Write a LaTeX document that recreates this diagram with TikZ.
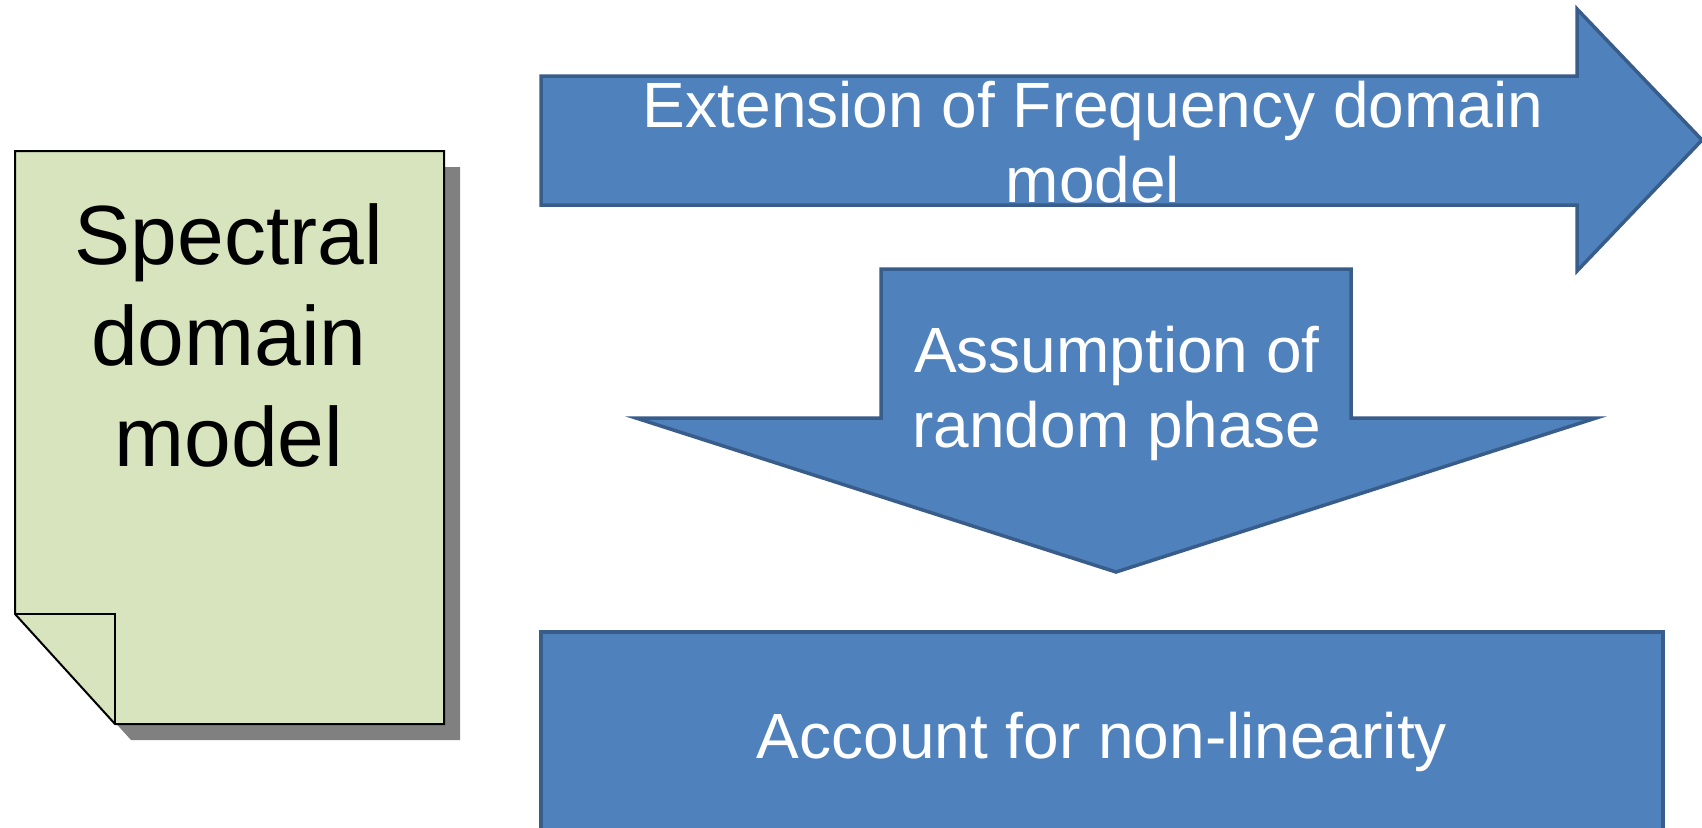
\documentclass[tikz,border=0pt]{standalone}
\usepackage{fontspec}
\setmainfont{Liberation Sans}
\usetikzlibrary{positioning}
\definecolor{blockblue}{HTML}{4F81BD}
\definecolor{blockedge}{HTML}{385D8A}
\definecolor{notegreen}{HTML}{D7E4BD}
\definecolor{noteshadow}{HTML}{808080}
\tikzset{
    blockshape/.style={fill=blockblue,draw=blockedge,line width=3.5pt,line join=miter},
    notetext/.style={align=center,font=\fontsize{84}{101}\selectfont,text=black},
    blocktext/.style={align=center,font=\fontsize{64}{75}\selectfont,text=white}
}
\begin{document}
\begin{tikzpicture}[x=1pt,y=-1pt]
    \clip (0,0) rectangle (1702,827);
    \fill[white] (0,0) rectangle (1702,827);
    % note sheet with folded corner
    \fill[noteshadow,shift={(16,16)}] (15,151) -- (444,151) -- (444,724)
        -- (115,724) -- (15,614) -- cycle;
    \draw[fill=notegreen,line width=2pt] (15,151) -- (444,151) -- (444,724)
        -- (115,724) -- (15,614) -- cycle;
    \draw[line width=2pt] (15,614) -- (115,614) -- (115,724);
    \node[notetext] (doctext) at (229,335) {Spectral\\domain\\model};
    % right arrow
    \draw[blockshape] (541,76) -- (1577,76) -- (1577,9) -- (1702,140)
        -- (1577,271) -- (1577,205) -- (541,205) -- cycle;
    \node[blocktext] (freqtext) at (1093,142) {Extension of Frequency domain\\model};
    % down arrow
    \draw[blockshape] (881,269) -- (1351,269) -- (1351,418) -- (1596,418)
        -- (1116,572) -- (636,418) -- (881,418) -- cycle;
    \node[blocktext] (phasetext) at (1117,393) {Assumption of\\random phase};
    % bottom block
    \node[blockshape,blocktext,anchor=north,minimum width=1122pt,minimum height=220pt,
        inner sep=0pt] (nonlin) at (1102,630) {Account for non-linearity};
\end{tikzpicture}
\end{document}
